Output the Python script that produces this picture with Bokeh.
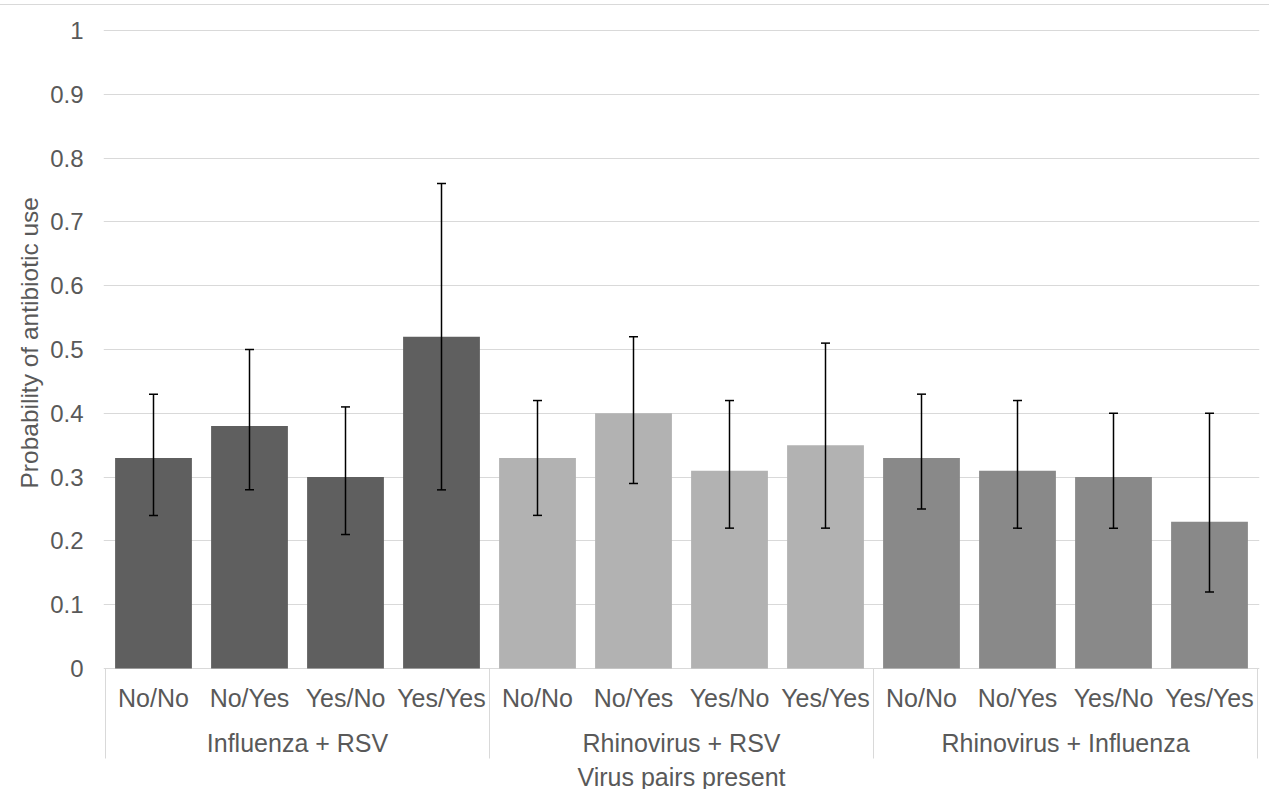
import numpy as np
from bokeh.plotting import figure
from bokeh.models import (ColumnDataSource, FactorRange, FixedTicker, CustomJSTickFormatter,
                          Whisker, TeeHead, Range1d, Title)
from bokeh.embed import file_html
from bokeh.resources import INLINE
from bokeh.core.properties import value

# ---------------- data ----------------
groups = ["Influenza + RSV", "Rhinovirus + RSV", "Rhinovirus + Influenza"]
subgroups = ["No/No", "No/Yes", "Yes/No", "Yes/Yes"]

flu_rsv = [0.33, 0.38, 0.30, 0.52]
flu_rsv_lower = [0.24, 0.28, 0.21, 0.28]
flu_rsv_upper = [0.43, 0.50, 0.41, 0.76]

rhino_rsv = [0.33, 0.40, 0.31, 0.35]
rhino_rsv_lower = [0.24, 0.29, 0.22, 0.22]
rhino_rsv_upper = [0.42, 0.52, 0.42, 0.51]

rhino_flu = [0.33, 0.31, 0.30, 0.23]
rhino_flu_lower = [0.25, 0.22, 0.22, 0.12]
rhino_flu_upper = [0.43, 0.42, 0.40, 0.40]

group_colors = ["#5f5f5f", "#b2b2b2", "#898989"]
y_ticks = [0, 0.1, 0.2, 0.3, 0.4, 0.5, 0.6, 0.7, 0.8, 0.9, 1.0]
x_title = "Virus pairs present"
y_title = "Probability of antibiotic use"

# ---------------- style / layout constants ----------------
FONT = "Liberation Sans"
TXT = "#595959"
GRID = "#d9d9d9"
PPU = 638.0            # pixels per unit on the value axis
CANVAS_TOP = 5         # page y of the canvas top (below the border line)
H = 785                # canvas height
ZERO_Y = 668           # page y of value 0
FRAME_TOP = 20         # page y of frame top
FRAME_LEFT = 103
Y_TITLE_BOTTOM = 488   # page y where the rotated y-axis title starts


def below(px):
    """data y for a point px pixels below the value-axis zero line"""
    return -px / PPU


y_top = (ZERO_Y - FRAME_TOP) / PPU
y_bottom = -((CANVAS_TOP + H) - ZERO_Y) / PPU

# ---------------- build ----------------
factors = [(g, s) for g in groups for s in subgroups]
tops = flu_rsv + rhino_rsv + rhino_flu
lowers = flu_rsv_lower + rhino_rsv_lower + rhino_flu_lower
uppers = flu_rsv_upper + rhino_rsv_upper + rhino_flu_upper
colors = [c for c in group_colors for _ in subgroups]

src = ColumnDataSource(dict(x=factors, top=tops, lower=lowers, upper=uppers, color=colors))

x_range = FactorRange(*factors, factor_padding=0, subgroup_padding=0, group_padding=0,
                      range_padding=1/48, range_padding_units="absolute")

p = figure(x_range=x_range, y_range=Range1d(y_bottom, y_top), width=1269, height=H,
           x_axis_location=None, toolbar_location=None, output_backend="svg",
           min_border_left=FRAME_LEFT, min_border_right=10,
           min_border_top=FRAME_TOP - CANVAS_TOP, min_border_bottom=0)
p.styles = {"margin-top": "4px", "border-top": "1px solid #d9d9d9"}
p.outline_line_color = None
p.xgrid.visible = False
p.ygrid.grid_line_color = GRID
p.ygrid.grid_line_width = 1

ticker = FixedTicker(ticks=y_ticks)
p.yaxis.ticker = ticker
p.ygrid.ticker = ticker
p.yaxis.formatter = CustomJSTickFormatter(code="return String(Math.round(tick*10)/10);")
p.yaxis.axis_line_color = None
p.yaxis.major_tick_line_color = None
p.yaxis.minor_tick_line_color = None
p.yaxis.major_tick_out = 0
p.yaxis.major_tick_in = 0
p.yaxis.major_label_standoff = 20
p.yaxis.major_label_text_font_size = "24px"
p.yaxis.major_label_text_color = TXT
p.yaxis.major_label_text_font = FONT

p.vbar(x="x", top="top", width=0.8, fill_color="color", line_color=None, source=src)

whisk = Whisker(base="x", upper="upper", lower="lower", source=src,
                line_color="black", line_width=1.5, level="overlay",
                upper_head=TeeHead(size=9, line_color="black", line_width=1.5),
                lower_head=TeeHead(size=9, line_color="black", line_width=1.5))
p.add_layout(whisk)

# y-axis title: side title, aligned from the frame bottom and shifted up onto the 0..1 span
p.add_layout(Title(text=y_title, align="left", offset=(CANVAS_TOP + H) - Y_TITLE_BOTTOM,
                   standoff=10, text_font=FONT, text_font_size="24.5px",
                   text_font_style="normal", text_color=TXT), "left")

# ---------------- category axis ----------------
n_sub = len(subgroups)
seps = [i * n_sub for i in range(len(groups) + 1)]
p.segment(x0=seps, x1=seps, y0=[0] * len(seps), y1=[below(90)] * len(seps),
          line_color=GRID, line_width=1)

sub_src = ColumnDataSource(dict(x=factors, text=[s for g in groups for s in subgroups]))
p.text(x="x", y=below(29), text="text", source=sub_src, text_align="center",
       text_baseline="alphabetic", text_font=value(FONT), text_font_size="25px", text_color=TXT)

p.text(x=groups, y=[below(74)] * len(groups), text=groups, text_align="center",
       text_baseline="alphabetic", text_font=value(FONT), text_font_size="25px", text_color=TXT)

p.text(x=[len(factors) / 2], y=[below(108)], text=[x_title], text_align="center",
       text_baseline="alphabetic", text_font=value(FONT), text_font_size="25px", text_color=TXT)

open("out.html", "w").write(file_html(p, INLINE))
